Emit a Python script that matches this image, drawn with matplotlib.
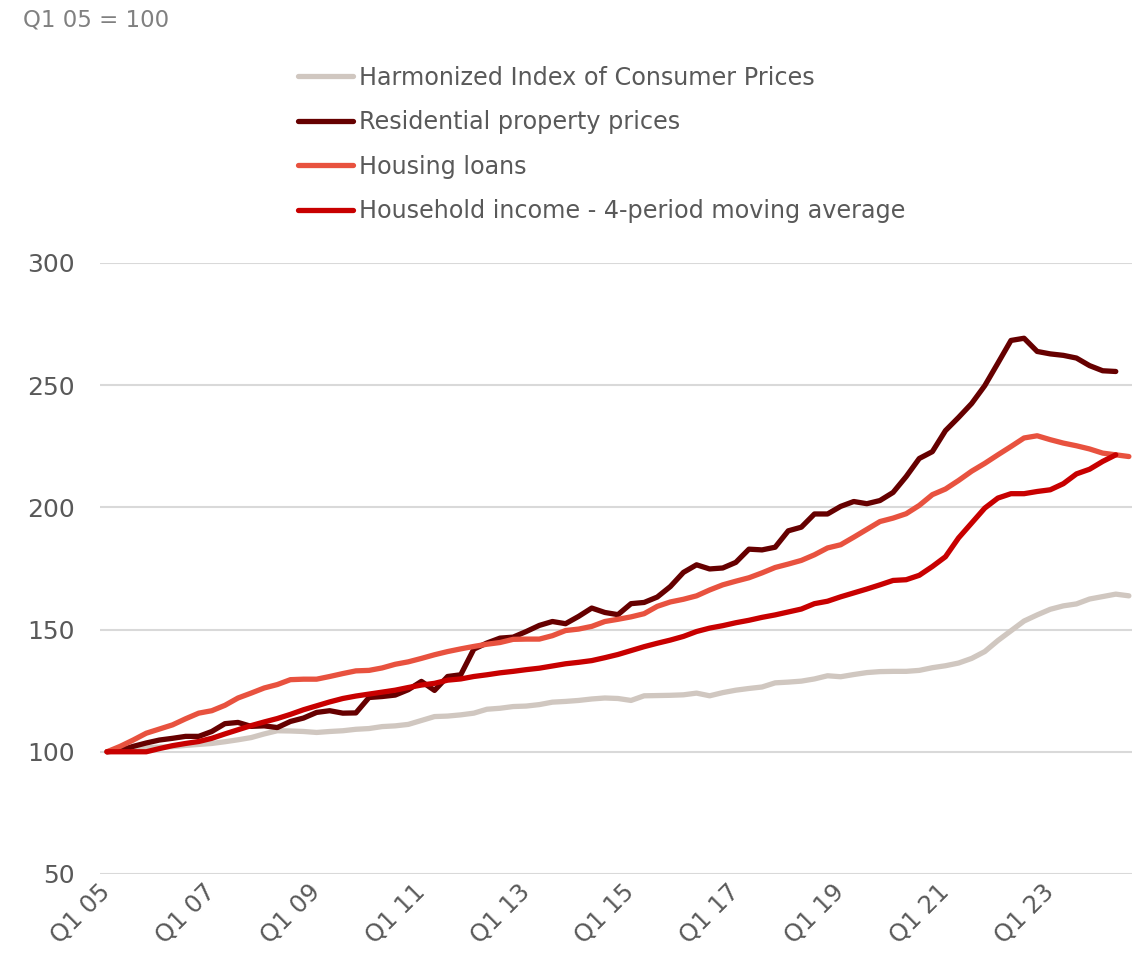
import matplotlib.pyplot as plt
import numpy as np

# index values, Q1 05 = 100, quarterly
hicp = [100, 100.8, 101.2, 101.6, 101.9, 102.1, 102.6, 103, 103.4, 104.1,
        104.9, 105.8, 107.3, 108.6, 108.5, 108.3, 107.9, 108.3, 108.6, 109.2,
        109.5, 110.3, 110.6, 111.2, 112.8, 114.4, 114.6, 115.1, 115.8, 117.4,
        117.8, 118.5, 118.7, 119.3, 120.3, 120.6, 121, 121.6, 122, 121.8,
        121, 122.9, 123, 123.1, 123.3, 124, 122.9, 124.2, 125.2, 125.9,
        126.5, 128.2, 128.5, 128.9, 129.8, 131.1, 130.7, 131.6, 132.4, 132.8,
        132.9, 132.9, 133.3, 134.4, 135.2, 136.3, 138.2, 141, 145.5, 149.5,
        153.5, 156, 158.3, 159.7, 160.5, 162.5, 163.5, 164.5, 163.8]

property_prices = [100, 100.6, 102.2, 103.6, 104.8, 105.5, 106.3, 106.3, 108.3, 111.5,
                   112, 110.4, 110.6, 109.9, 112.4, 113.8, 116.1, 116.8, 115.8, 115.9,
                   122.2, 122.6, 123.2, 125.4, 128.8, 125.1, 130.8, 131.5, 142, 144.5,
                   146.5, 146.9, 149.2, 151.7, 153.3, 152.4, 155.4, 158.8, 157, 156.1,
                   160.6, 161.1, 163.3, 167.6, 173.4, 176.5, 174.8, 175.2, 177.5, 182.9,
                   182.6, 183.7, 190.4, 191.9, 197.3, 197.3, 200.4, 202.4, 201.5, 202.8,
                   206.1, 212.6, 220, 222.8, 231.4, 236.8, 242.5, 249.8, 259, 268.3,
                   269.2, 263.8, 262.8, 262.2, 261.1, 258, 255.9, 255.6]

housing_loans = [100, 102.2, 104.8, 107.6, 109.3, 111, 113.5, 115.8, 116.8, 119,
                 122, 124, 126.1, 127.5, 129.5, 129.7, 129.7, 130.8, 132, 133.1,
                 133.3, 134.3, 135.8, 136.8, 138.2, 139.7, 141, 142.1, 143.1, 144,
                 144.7, 146, 146.1, 146.1, 147.5, 149.6, 150.2, 151.3, 153.3, 154.2,
                 155.2, 156.5, 159.5, 161.3, 162.4, 163.8, 166.2, 168.3, 169.8, 171.2,
                 173.2, 175.4, 176.8, 178.3, 180.6, 183.4, 184.7, 187.8, 191, 194.2,
                 195.6, 197.4, 200.8, 205.2, 207.5, 211, 214.8, 218, 221.5, 224.9,
                 228.4, 229.3, 227.7, 226.3, 225.2, 223.9, 222.2, 221.5, 220.8]

household_income = [100, 100, 100, 100, 101.3, 102.5, 103.4, 104.2, 105.5, 107.3,
                    109, 110.7, 112.2, 113.6, 115.3, 117.2, 118.8, 120.4, 121.8, 122.8,
                    123.6, 124.4, 125.2, 126.3, 127.3, 128, 129.3, 129.8, 130.8, 131.5,
                    132.3, 132.9, 133.6, 134.2, 135.1, 136, 136.6, 137.3, 138.5, 139.8,
                    141.4, 143, 144.4, 145.7, 147.2, 149.2, 150.6, 151.6, 152.8, 153.8,
                    155, 156, 157.2, 158.4, 160.6, 161.6, 163.4, 165, 166.6, 168.3,
                    170.1, 170.4, 172.2, 175.8, 179.8, 187.5, 193.6, 199.7, 203.8, 205.6,
                    205.6, 206.5, 207.2, 209.7, 213.7, 215.6, 218.8, 221.5]

tick_labels = ["Q1 05", "Q1 07", "Q1 09", "Q1 11", "Q1 13",
               "Q1 15", "Q1 17", "Q1 19", "Q1 21", "Q1 23"]

series = [
    ("Harmonized Index of Consumer Prices", hicp, "#D0C7C0"),
    ("Residential property prices", property_prices, "#660000"),
    ("Housing loans", housing_loans, "#E8523F"),
    ("Household income - 4-period moving average", household_income, "#C80000"),
]

text_col = "#595959"

fig = plt.figure(figsize=(11.46, 9.64), dpi=100)
ax = fig.add_axes([0.0873, 0.0934, 0.9005, 0.6338])

for name, vals, col in series:
    ax.plot(np.arange(len(vals)), vals, color=col, lw=3.8, label=name,
            solid_capstyle="round", solid_joinstyle="round")

ax.set_xlim(-0.53, 78.24)
ax.set_ylim(50, 300)
ax.set_yticks(range(50, 301, 50))
ax.set_xticks(np.arange(len(tick_labels)) * 8)
ax.set_xticklabels(tick_labels, rotation=45, ha="right", va="center",
                   rotation_mode="anchor")
ax.grid(axis="y", color="#D9D9D9", lw=1.5)
ax.set_axisbelow(True)
for s in ax.spines.values():
    s.set_visible(False)
ax.tick_params(axis="y", length=0, pad=18, labelsize=18, labelcolor=text_col)
ax.tick_params(axis="x", length=0, pad=10, labelsize=17.5, labelcolor=text_col)

fig.text(0.02, 0.972, "Q1 05 = 100", fontsize=16.5, color="#808080", va="baseline")

fig.legend(loc="upper left", bbox_to_anchor=(298 / 1146, 0.932), frameon=False,
           fontsize=17.2, labelcolor=text_col, handlelength=2.3, handletextpad=0.25,
           labelspacing=0.86, borderpad=0, borderaxespad=0)

fig.savefig("out.png", dpi=100)
